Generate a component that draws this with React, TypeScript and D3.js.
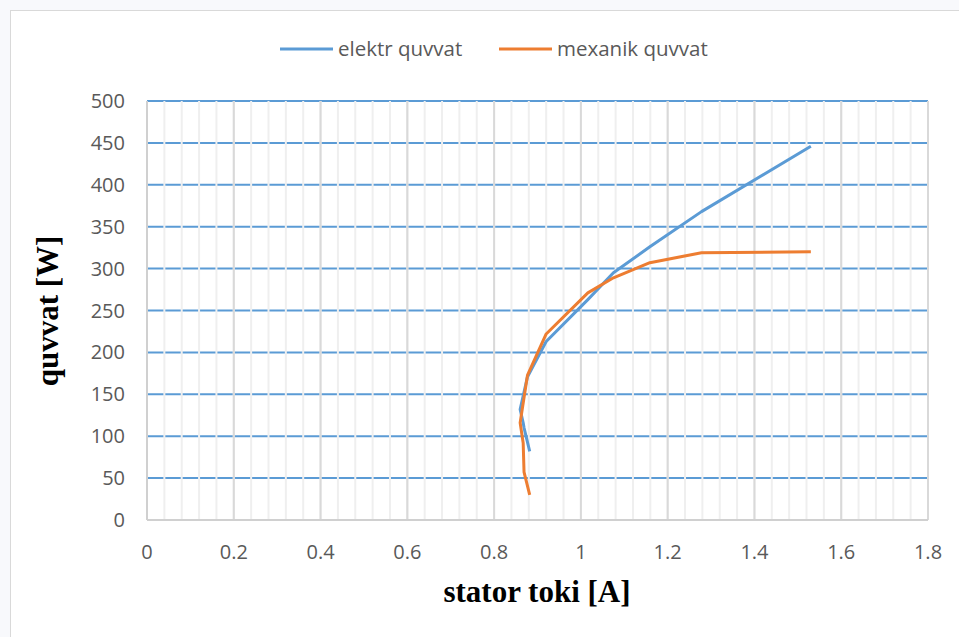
import * as d3 from 'd3'

// stator current [A], shared by both series
const statorCurrent = [0.882, 0.869, 0.867, 0.86, 0.877, 0.92, 1.016, 1.075, 1.159, 1.278, 1.53]
const elektrPower = [82, 110, 116, 132, 171, 213, 263, 295, 326, 368, 446]
const mexanikPower = [30, 57, 92, 116, 173, 222, 271, 289, 307, 319, 320]

const xTicks = [0, 0.2, 0.4, 0.6, 0.8, 1, 1.2, 1.4, 1.6, 1.8]
const yTicks = [0, 50, 100, 150, 200, 250, 300, 350, 400, 450, 500]
const legendNames = ['elektr quvvat', 'mexanik quvvat']

const W = 959
const H = 637
const PLOT = { left: 147, right: 928, top: 101, bottom: 520 }
const BLUE = '#5b9bd5'
const ORANGE = '#ed7d31'
const TEXT = '#595959'
const SANS = '"Open Sans", sans-serif'
const SERIF = '"Liberation Serif", "Times New Roman", serif'

export default function App() {
  const x = d3.scaleLinear().domain([0, 1.8]).range([PLOT.left, PLOT.right])
  const y = d3.scaleLinear().domain([0, 500]).range([PLOT.bottom, PLOT.top])

  const minorX = d3.range(0, 1.8001, 0.04)
  const line = d3.line<number>()
    .x((_, i) => x(statorCurrent[i]))
    .y(d => y(d))

  return (
    <svg width={W} height={H} style={{ position: 'absolute', left: 0, top: 0, display: 'block' }}>
      <rect x={0} y={0} width={W} height={H} fill="#f8f9fc" />
      <rect x={10.5} y={10.5} width={W + 10} height={H + 10} fill="#fff" stroke="#d9d9d9" />

      {/* horizontal gridlines */}
      {yTicks.map(t => (
        <line key={'h' + t} x1={PLOT.left} x2={PLOT.right} y1={y(t)} y2={y(t)}
          stroke={t === 0 ? 'none' : BLUE} strokeWidth={2} />
      ))}

      {/* vertical minor gridlines */}
      {minorX.map((t, i) => (
        <line key={'m' + i} x1={x(t)} x2={x(t)} y1={PLOT.top} y2={PLOT.bottom}
          stroke="#efefef" strokeWidth={2} />
      ))}
      {/* vertical major gridlines */}
      {xTicks.map(t => (
        <line key={'v' + t} x1={x(t)} x2={x(t)} y1={PLOT.top} y2={PLOT.bottom}
          stroke="#d9d9d9" strokeWidth={2} />
      ))}

      {/* axes */}
      <line x1={PLOT.left} x2={PLOT.right} y1={y(0)} y2={y(0)} stroke="#d0d0d0" strokeWidth={2} />
      <line x1={PLOT.left} x2={PLOT.left} y1={PLOT.top} y2={PLOT.bottom} stroke="#d0d0d0" strokeWidth={2} />

      {yTicks.map(t => (
        <text key={'yt' + t} x={125} y={y(t)} dy="0.35em" textAnchor="end"
          fontFamily={SANS} fontSize={20} fill={TEXT}>{t}</text>
      ))}
      {xTicks.map(t => (
        <text key={'xt' + t} x={x(t)} y={552} dy="0.35em" textAnchor="middle"
          fontFamily={SANS} fontSize={20} fill={TEXT}>{t}</text>
      ))}

      {/* series */}
      <path d={line(elektrPower) ?? ''} fill="none" stroke={BLUE} strokeWidth={3} strokeLinejoin="round" />
      <path d={line(mexanikPower) ?? ''} fill="none" stroke={ORANGE} strokeWidth={3} strokeLinejoin="round" />

      {/* legend */}
      {legendNames.map((name, i) => {
        const lx = i === 0 ? 280 : 499
        return (
          <g key={name}>
            <line x1={lx} x2={lx + 53} y1={49} y2={49} stroke={i === 0 ? BLUE : ORANGE} strokeWidth={3} />
            <text x={lx + 58} y={49} dy="0.35em" fontFamily={SANS} fontSize={20.5} fill={TEXT}>{name}</text>
          </g>
        )
      })}

      {/* axis titles */}
      <text transform="translate(58,311) rotate(-90)" textAnchor="middle"
        fontFamily={SERIF} fontWeight="bold" fontSize={31} fill="#000">quvvat [W]</text>
      <text x={537} y={602} textAnchor="middle"
        fontFamily={SERIF} fontWeight="bold" fontSize={31} fill="#000">stator toki [A]</text>
    </svg>
  )
}
